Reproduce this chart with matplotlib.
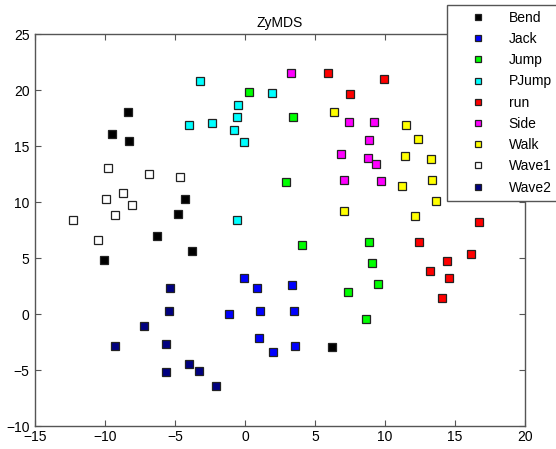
import matplotlib
matplotlib.use('Agg')
import matplotlib.pyplot as plt

plt.rcParams['font.family'] = ['Liberation Sans', 'DejaVu Sans']
plt.rcParams['font.size'] = 10

labels = ['Bend', 'Jack', 'Jump', 'PJump', 'run', 'Side', 'Walk', 'Wave1', 'Wave2']
colors = ['k', (0, 0, 1), (0, 1, 0), (0, 1, 1), (1, 0, 0), (1, 0, 1), (1, 1, 0), (1, 1, 1), (0, 0, 0.5)]

bend_x = [-8.34, -9.48, -8.26, -4.26, -4.81, -6.29, -3.76, -10.05, 6.21]
bend_y = [18.06, 16.04, 15.45, 10.24, 8.90, 6.96, 5.63, 4.82, -2.92]
jack_x = [-0.07, 0.83, 3.36, -1.14, 1.07, 3.52, 1.00, 2.02, 3.59]
jack_y = [3.19, 2.35, 2.56, 0.00, 0.24, 0.24, -2.14, -3.37, -2.83]
jump_x = [0.26, 3.43, 2.95, 4.07, 8.84, 9.07, 9.48, 7.33, 8.64]
jump_y = [19.80, 17.56, 11.76, 6.16, 6.46, 4.52, 2.68, 1.96, -0.48]
pjump_x = [-3.19, 1.95, -0.48, -0.57, -2.38, -4.00, -0.81, -0.07, -0.57]
pjump_y = [20.80, 19.73, 18.70, 17.56, 17.08, 16.85, 16.45, 15.33, 8.39]
run_x = [5.95, 9.95, 7.52, 16.74, 12.40, 16.16, 14.45, 13.24, 14.55, 14.05]
run_y = [21.50, 20.98, 19.67, 8.19, 6.46, 5.33, 4.73, 3.81, 3.19, 1.46]
side_x = [3.26, 7.43, 9.24, 8.84, 6.88, 8.76, 9.38, 7.09, 9.71]
side_y = [21.50, 17.17, 17.17, 15.54, 14.32, 13.90, 13.39, 11.96, 11.88]
walk_x = [6.38, 11.52, 12.34, 11.43, 13.31, 11.19, 13.38, 13.64, 7.09, 12.16]
walk_y = [18.06, 16.85, 15.62, 14.11, 13.81, 11.46, 11.96, 10.12, 9.20, 8.72]
wave1_x = [-9.81, -6.88, -4.64, -8.71, -9.95, -8.07, -9.29, -12.30, -10.52]
wave1_y = [13.00, 12.47, 12.26, 10.83, 10.24, 9.73, 8.81, 8.42, 6.64]
wave2_x = [-5.38, -5.45, -7.19, -9.29, -5.64, -4.00, -3.26, -5.64, -2.05]
wave2_y = [2.35, 0.24, -1.10, -2.86, -2.65, -4.46, -5.09, -5.18, -6.43]

xs = [bend_x, jack_x, jump_x, pjump_x, run_x, side_x, walk_x, wave1_x, wave2_x]
ys = [bend_y, jack_y, jump_y, pjump_y, run_y, side_y, walk_y, wave1_y, wave2_y]

fig = plt.figure(figsize=(5.56, 4.49), dpi=100)
ax = fig.add_axes([35/556, 23/449, 490/556, 392/449])

for x, y, c, lab in zip(xs, ys, colors, labels):
    ax.plot(x, y, 's', color=c, mfc=c, mec='#222222', mew=0.9, ms=5.8, label=lab)

ax.set_xlim(-15, 20)
ax.set_ylim(-10, 25)
ax.set_xticks(range(-15, 21, 5))
ax.set_yticks(range(-10, 26, 5))
ax.tick_params(direction='in', top=True, right=True, length=4, width=0.8,
               color='#555555', labelsize=10)
ax.tick_params(axis='x', pad=3)
ax.tick_params(axis='y', pad=4)
for s in ax.spines.values():
    s.set_color('#555555')
    s.set_linewidth(1.0)
ax.set_title('ZyMDS', fontsize=10, pad=5)

leg = fig.legend(loc='upper left', bbox_to_anchor=(447/556, 1 - 4.5/449),
                 borderaxespad=0, fancybox=False, framealpha=1, numpoints=1,
                 handlelength=3.6, handletextpad=0.4, labelspacing=0.52,
                 borderpad=0.45)
leg.get_frame().set_edgecolor('#555555')
leg.get_frame().set_linewidth(1.0)
for h in leg.legend_handles:
    h.set_markersize(5)

fig.savefig('out.png', dpi=100)
